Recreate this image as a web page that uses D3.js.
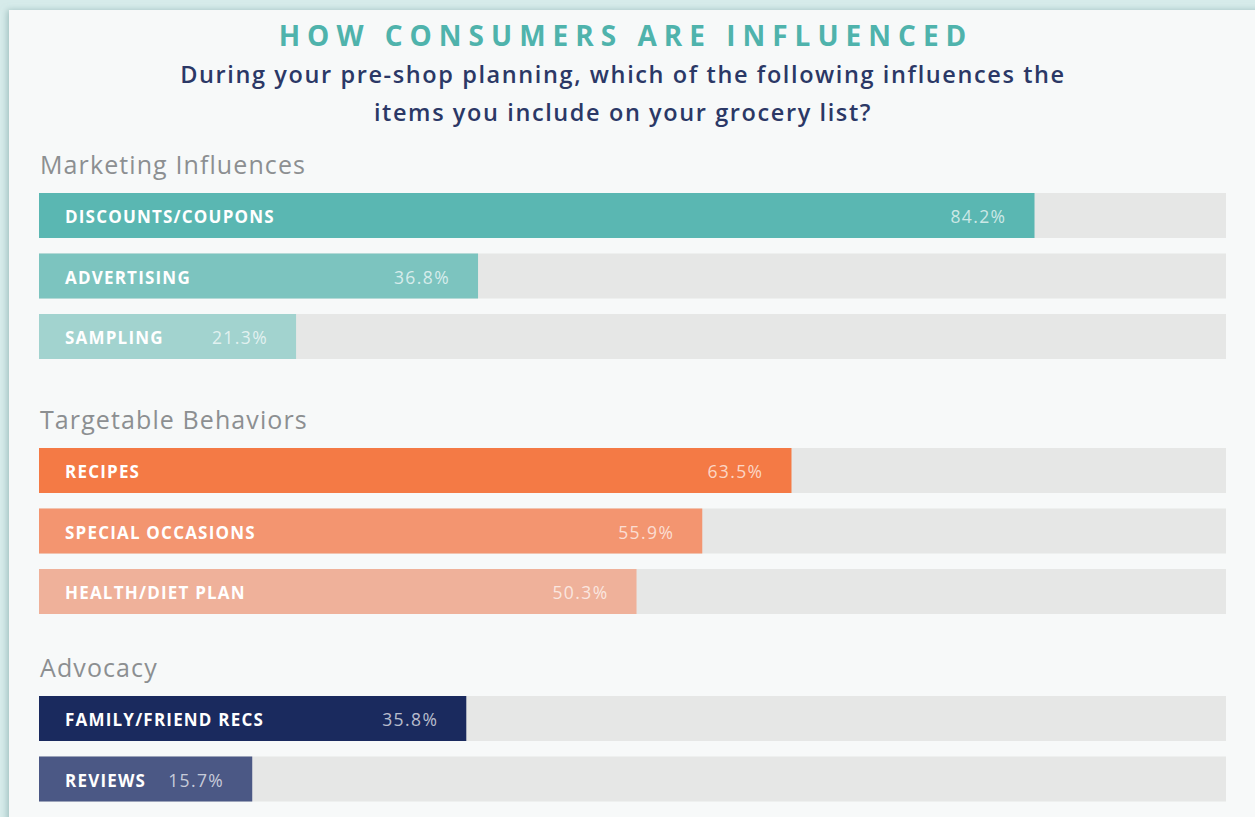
<!DOCTYPE html>
<html lang="en">
<head>
    <meta charset="utf-8">
    <title>How Consumers Are Influenced</title>
    <script src="https://d3js.org/d3.v7.min.js"></script>
    <style>
        html, body {
            margin: 0;
            padding: 0;
            background: #d6ebea;
            overflow: hidden;
        }
        svg {
            display: block;
            font-family: "Open Sans", "Noto Sans", sans-serif;
        }
        .title {
            font-size: 28px;
            font-weight: 700;
            fill: #4fb3ac;
            letter-spacing: 7px;
        }
        .subtitle {
            font-size: 23.5px;
            font-weight: 600;
            fill: #2b3866;
            letter-spacing: 1.6px;
        }
        .group-title {
            font-size: 25px;
            font-weight: 400;
            fill: #8c8f91;
            letter-spacing: 1.1px;
        }
        .bar-label {
            font-size: 17px;
            font-weight: 700;
            fill: #ffffff;
            letter-spacing: 1.2px;
        }
        .value-label {
            font-size: 17.5px;
            fill: #ffffff;
            fill-opacity: 0.7;
            letter-spacing: 1.4px;
        }
    </style>
</head>
<body>
    <div id="chart"></div>
    <script>
        // Data
        const groups = ["Marketing Influences", "Targetable Behaviors", "Advocacy"];
        const labels = ["DISCOUNTS/COUPONS", "ADVERTISING", "SAMPLING",
                        "RECIPES", "SPECIAL OCCASIONS", "HEALTH/DIET PLAN",
                        "FAMILY/FRIEND RECS", "REVIEWS"];
        const values = [84.2, 36.8, 21.3, 63.5, 55.9, 50.3, 35.8, 15.7];
        const groupOf = [0, 0, 0, 1, 1, 1, 2, 2];

        // Colours per bar
        const palette = ["#5ab7b2", "#7cc4bf", "#a2d3cf",
                         "#f47a45", "#f39570", "#efb19a",
                         "#1a2a5e", "#4b5885"];

        const width = 1255, height = 817;

        const svg = d3.select("#chart").append("svg")
            .attr("width", width)
            .attr("height", height);

        // panel with a soft shadow
        const defs = svg.append("defs");
        const f = defs.append("filter").attr("id", "shadow")
            .attr("x", "-5%").attr("y", "-5%").attr("width", "110%").attr("height", "110%");
        f.append("feDropShadow")
            .attr("dx", -2).attr("dy", 0).attr("stdDeviation", 3)
            .attr("flood-color", "#7fa5a5").attr("flood-opacity", 0.6);

        svg.append("rect")
            .attr("x", 9).attr("y", 10)
            .attr("width", width).attr("height", height)
            .attr("fill", "#f7f9f9")
            .attr("filter", "url(#shadow)");

        // Titles
        const cx = 623;
        svg.append("text").attr("class", "title")
            .attr("x", cx + 3).attr("y", 46)
            .attr("text-anchor", "middle")
            .text("HOW CONSUMERS ARE INFLUENCED");

        svg.append("text").attr("class", "subtitle")
            .attr("x", cx).attr("y", 83)
            .attr("text-anchor", "middle")
            .text("During your pre-shop planning, which of the following influences the");
        svg.append("text").attr("class", "subtitle")
            .attr("x", cx).attr("y", 121)
            .attr("text-anchor", "middle")
            .text("items you include on your grocery list?");

        // Scales: bars start at the track edge, values measured from a small inset
        const left = 39, right = 1226;
        const x = d3.scaleLinear().domain([0, 100]).range([46, 1220]);

        const barH = 45, rowStep = 60.5;
        const groupGaps = [134, 127];
        const firstBar = 193;

        // compute row tops from group membership
        const rowY = [];
        let y = firstBar;
        groupOf.forEach((g, i) => {
            if (i > 0) {
                y += (g !== groupOf[i - 1]) ? groupGaps[g - 1] : rowStep;
            }
            rowY.push(y);
        });

        // Group titles
        groups.forEach((name, gi) => {
            const firstIdx = groupOf.indexOf(gi);
            svg.append("text").attr("class", "group-title")
                .attr("x", 40)
                .attr("y", rowY[firstIdx] - 19)
                .text(name);
        });

        const rows = svg.append("g").selectAll("g")
            .data(values.map((v, i) => ({ v, i })))
            .join("g")
            .attr("transform", d => `translate(0,${rowY[d.i]})`);

        // background track
        rows.append("rect")
            .attr("x", left)
            .attr("width", right - left)
            .attr("height", barH)
            .attr("fill", "#e6e7e6");

        // value bar (width set after the labels are measured)
        const bars = rows.append("rect")
            .attr("x", left)
            .attr("height", barH)
            .attr("fill", d => palette[d.i]);

        const names = rows.append("text").attr("class", "bar-label")
            .attr("x", 65)
            .attr("y", barH / 2 + 7.5)
            .text(d => labels[d.i]);

        const vals = rows.append("text").attr("class", "value-label")
            .attr("y", barH / 2 + 7.5)
            .attr("text-anchor", "end")
            .text(d => d.v.toFixed(1) + "%");

        // short bars grow just enough to hold their name and value
        names.each(function (d) { d.nameW = this.getComputedTextLength(); });
        vals.each(function (d) { d.valW = this.getComputedTextLength(); });
        rows.each(d => {
            d.end = Math.max(x(d.v), 65 + d.nameW + 22 + d.valW + 28);
        });

        bars.attr("width", d => d.end - left);
        vals.attr("x", d => d.end - 28);
    </script>
</body>
</html>
